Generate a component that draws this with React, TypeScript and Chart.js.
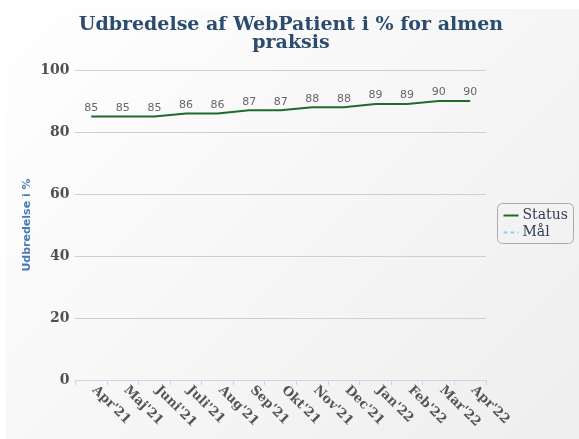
import React, { useEffect, useRef } from "react";
import { Chart, registerables } from "chart.js";

Chart.register(...registerables);

const titleLines = ["Udbredelse af WebPatient i % for almen", "praksis"];
const categories = ["Apr'21", "Maj'21", "Juni'21", "Juli'21", "Aug'21", "Sep'21", "Okt'21", "Nov'21", "Dec'21", "Jan'22", "Feb'22", "Mar'22", "Apr'22"];
const statusValues = [85, 85, 85, 86, 86, 87, 87, 88, 88, 89, 89, 90, 90];
const maalValues: (number | null)[] = [null, null, null, null, null, null, null, null, null, null, null, null, null];
const yTicks = [0, 20, 40, 60, 80, 100];
const seriesNames = ["Status", "Mål"];
const seriesColors = ["#1f6b2b", "#8fd0ea"];

const labelsPlugin = {
  id: "customLabels",
  afterDatasetsDraw(chart: any) {
    const ctx = chart.ctx;
    const meta = chart.getDatasetMeta(0);
    ctx.save();
    ctx.font = "11px 'DejaVu Sans'";
    ctx.fillStyle = "#666";
    ctx.textAlign = "center";
    ctx.textBaseline = "bottom";
    meta.data.forEach((pt: any, i: number) => {
      const v = statusValues[i];
      if (v == null) return;
      ctx.fillText(String(v), pt.x, pt.y - 3);
    });
    ctx.restore();
  },
  afterDraw(chart: any) {
    const ctx = chart.ctx;
    const xs = chart.scales.x;
    ctx.save();
    // title
    ctx.font = "bold 19px 'DejaVu Serif'";
    ctx.fillStyle = "#2b4c6f";
    ctx.textAlign = "center";
    ctx.textBaseline = "middle";
    titleLines.forEach((t, i) => ctx.fillText(t, 291, 25 + i * 18));
    // x labels
    ctx.font = "bold 13px 'DejaVu Serif'";
    ctx.fillStyle = "#555";
    ctx.textAlign = "left";
    ctx.textBaseline = "middle";
    categories.forEach((c, i) => {
      const x = xs.getPixelForValue(i);
      ctx.save();
      ctx.translate(x + 3, xs.top + 8);
      ctx.rotate(Math.PI / 4);
      ctx.fillText(c, 0, 0);
      ctx.restore();
    });
    // legend
    const area = chart.chartArea;
    const bx = Math.round(area.right) + 11.5, bw = 76, bh = 40;
    const cy = (area.top + area.bottom) / 2 - 2;
    const by = Math.round(cy - bh / 2) + 0.5, r = 5;
    ctx.strokeStyle = "#aaa";
    ctx.lineWidth = 1;
    ctx.beginPath();
    ctx.moveTo(bx + r, by);
    ctx.arcTo(bx + bw, by, bx + bw, by + bh, r);
    ctx.arcTo(bx + bw, by + bh, bx, by + bh, r);
    ctx.arcTo(bx, by + bh, bx, by, r);
    ctx.arcTo(bx, by, bx + bw, by, r);
    ctx.closePath();
    ctx.stroke();
    ctx.font = "14px 'DejaVu Serif'";
    ctx.textBaseline = "middle";
    ctx.textAlign = "left";
    seriesNames.forEach((n, i) => {
      const yy = by + 12 + i * 17;
      ctx.strokeStyle = seriesColors[i];
      ctx.lineWidth = 2;
      ctx.setLineDash(i === 1 ? [4, 3] : []);
      ctx.beginPath();
      ctx.moveTo(bx + 6, yy);
      ctx.lineTo(bx + 21, yy);
      ctx.stroke();
      ctx.setLineDash([]);
      ctx.fillStyle = "#2f3f55";
      ctx.fillText(n, bx + 25, yy);
    });
    ctx.restore();
  },
};

export default function App() {
  const ref = useRef<HTMLCanvasElement | null>(null);
  useEffect(() => {
    document.body.style.margin = "0";
    const canvas = ref.current!;
    const chart = new Chart(canvas, {
      type: "line",
      data: {
        labels: categories,
        datasets: [
          {
            label: seriesNames[0],
            data: statusValues,
            borderColor: seriesColors[0],
            backgroundColor: seriesColors[0],
            borderWidth: 2,
            pointRadius: 0,
            tension: 0,
          },
          {
            label: seriesNames[1],
            data: maalValues,
            borderColor: seriesColors[1],
            backgroundColor: seriesColors[1],
            borderWidth: 2,
            borderDash: [4, 3],
            pointRadius: 0,
          },
        ],
      },
      options: {
        animation: false,
        responsive: false,
        maintainAspectRatio: false,
        layout: { padding: { left: 21, right: 93, top: 70, bottom: 54 } },
        plugins: {
          title: { display: false },
          legend: { display: false },
          tooltip: { enabled: false },
        },
        scales: {
          x: {
            offset: true,
            grid: { display: true, drawOnChartArea: false, offset: true, color: "#c8d6e8", tickLength: 5 },
            border: { color: "#c8d6e8" },
            ticks: { display: false },
          },
          y: {
            min: 0,
            max: 100,
            afterBuildTicks: (s: any) => {
              s.ticks = yTicks.map((v) => ({ value: v }));
            },
            grid: { color: "#cfcfcf", drawTicks: false },
            border: { display: false },
            ticks: {
              font: { family: "'DejaVu Serif'", size: 14, weight: "bold" },
              color: "#505050",
              padding: 6,
            },
            title: {
              display: true,
              text: "Udbredelse i %",
              font: { family: "'DejaVu Sans'", size: 11, weight: "bold" },
              color: "#4a7ab5",
              padding: { top: 0, bottom: 0 },
            },
          },
        },
      },
      plugins: [labelsPlugin],
    });
    return () => chart.destroy();
  }, []);
  return (
    <div style={{ position: "relative", width: 579, height: 439 }}>
      <div
        style={{
          position: "absolute",
          left: 6,
          top: 9,
          width: 573,
          height: 430,
          background: "linear-gradient(135deg, #ffffff 0%, #eeeeee 100%)",
        }}
      />
      <canvas ref={ref} width={579} height={439} style={{ position: "absolute", left: 0, top: 0 }} />
    </div>
  );
}
